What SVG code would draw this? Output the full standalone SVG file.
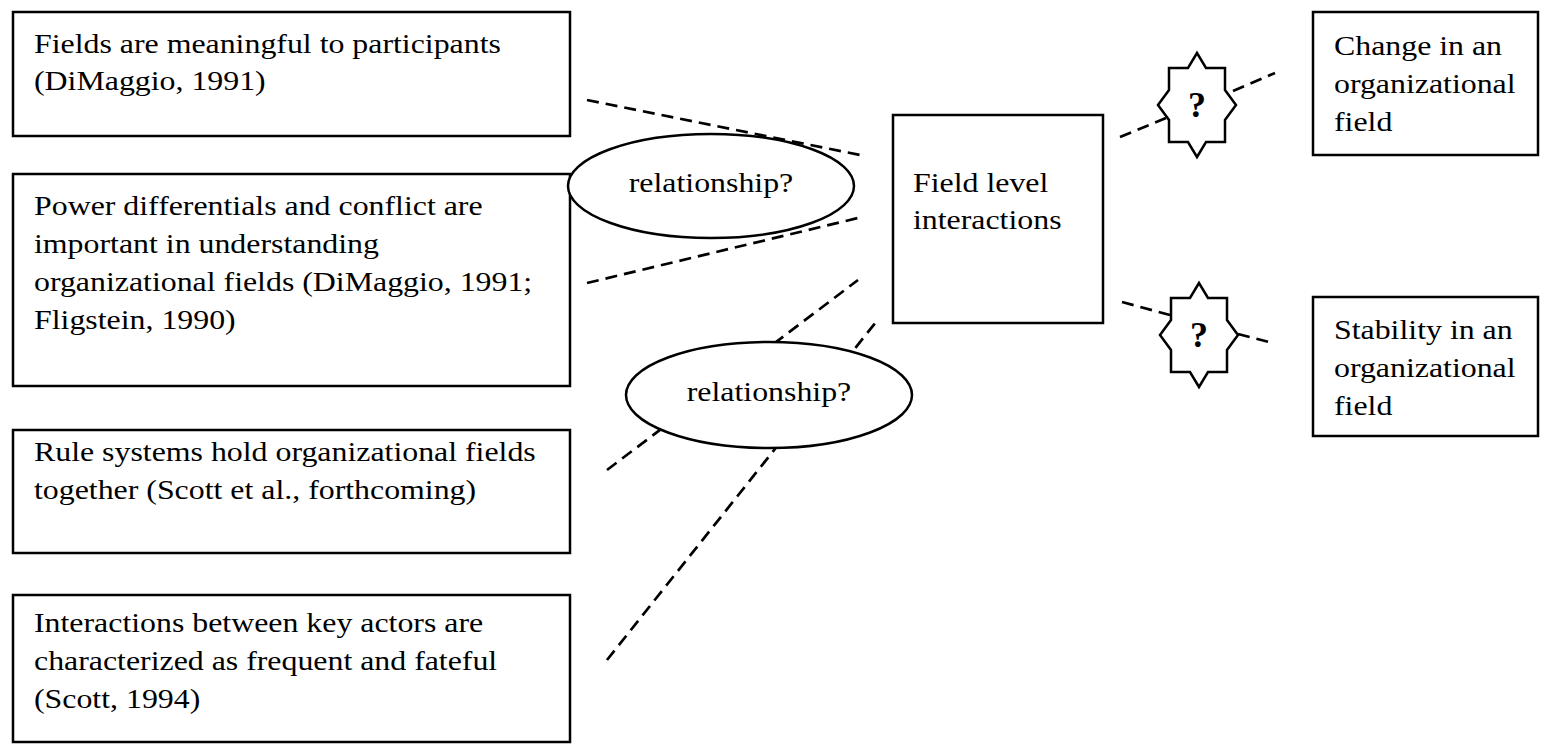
<svg xmlns="http://www.w3.org/2000/svg" width="1556" height="752" viewBox="0 0 1556 752">
<style>
.box{fill:#fff;stroke:#000;stroke-width:2.5}
.t{font-family:"Liberation Serif","Times New Roman",serif;font-size:27px;fill:#000}
.q{font-family:"Liberation Serif","Times New Roman",serif;font-size:36px;font-weight:bold;fill:#000;text-anchor:middle}
.c{text-anchor:middle}
.dash{fill:none;stroke:#000;stroke-width:2.7;stroke-dasharray:12 7}
</style>
<defs>
<path id="star" d="M-28,-37 L-9,-37 L0,-52 L9,-37 L28,-37 L28,-15 L39,0 L28,15 L28,37 L9,37 L0,52 L-9,37 L-28,37 L-28,15 L-39,0 L-28,-15 Z" fill="#fff" stroke="#000" stroke-width="2.5" stroke-linejoin="miter"/>
</defs>
<rect width="1556" height="752" fill="#fff"/>
<g id="connectors">
<line class="dash" x1="587" y1="100" x2="860" y2="155"/>
<line class="dash" x1="587" y1="283" x2="858" y2="218"/>
<line class="dash" x1="607" y1="470" x2="858" y2="280"/>
<line class="dash" x1="607" y1="660" x2="876" y2="322"/>
<line class="dash" x1="1120" y1="137" x2="1166" y2="118"/>
<line class="dash" x1="1233" y1="91" x2="1275" y2="73"/>
<line class="dash" x1="1122" y1="302" x2="1170" y2="315"/>
<line class="dash" x1="1238" y1="334" x2="1273" y2="343"/>
</g>
<g id="n1">
<rect class="box" x="13" y="12" width="557" height="124"/>
<text class="t" transform="translate(34,53) scale(1.18,1)">Fields are meaningful to participants</text>
<text class="t" transform="translate(34,90) scale(1.18,1)">(DiMaggio, 1991)</text>
</g>
<g id="n2">
<rect class="box" x="13" y="174" width="557" height="212"/>
<text class="t" transform="translate(34,215) scale(1.18,1)">Power differentials and conflict are</text>
<text class="t" transform="translate(34,253) scale(1.18,1)">important in understanding</text>
<text class="t" transform="translate(34,291) scale(1.18,1)">organizational fields (DiMaggio, 1991;</text>
<text class="t" transform="translate(34,329) scale(1.18,1)">Fligstein, 1990)</text>
</g>
<g id="n3">
<rect class="box" x="13" y="430" width="557" height="123"/>
<text class="t" transform="translate(34,461) scale(1.18,1)">Rule systems hold organizational fields</text>
<text class="t" transform="translate(34,499) scale(1.18,1)">together (Scott et al., forthcoming)</text>
</g>
<g id="n4">
<rect class="box" x="13" y="595" width="557" height="147"/>
<text class="t" transform="translate(34,632) scale(1.18,1)">Interactions between key actors are</text>
<text class="t" transform="translate(34,670) scale(1.18,1)">characterized as frequent and fateful</text>
<text class="t" transform="translate(34,708) scale(1.18,1)">(Scott, 1994)</text>
</g>
<g id="rel1">
<ellipse class="box" cx="711" cy="186" rx="143" ry="52"/>
<text class="t c" transform="translate(711,192) scale(1.18,1)">relationship?</text>
</g>
<g id="rel2">
<ellipse class="box" cx="769" cy="395" rx="143" ry="53"/>
<text class="t c" transform="translate(769,401) scale(1.18,1)">relationship?</text>
</g>
<g id="field">
<rect class="box" x="893" y="115" width="210" height="208"/>
<text class="t" transform="translate(913,192) scale(1.18,1)">Field level</text>
<text class="t" transform="translate(913,229) scale(1.18,1)">interactions</text>
</g>
<g id="q1">
<use href="#star" x="1197" y="105"/>
<text class="q" x="1197" y="117">?</text>
</g>
<g id="q2">
<use href="#star" x="1199" y="335"/>
<text class="q" x="1199" y="347">?</text>
</g>
<g id="change">
<rect class="box" x="1313" y="12" width="225" height="143"/>
<text class="t" transform="translate(1334,55) scale(1.18,1)">Change in an</text>
<text class="t" transform="translate(1334,93) scale(1.18,1)">organizational</text>
<text class="t" transform="translate(1334,131) scale(1.18,1)">field</text>
</g>
<g id="stability">
<rect class="box" x="1313" y="297" width="225" height="139"/>
<text class="t" transform="translate(1334,339) scale(1.18,1)">Stability in an</text>
<text class="t" transform="translate(1334,377) scale(1.18,1)">organizational</text>
<text class="t" transform="translate(1334,415) scale(1.18,1)">field</text>
</g>
</svg>
